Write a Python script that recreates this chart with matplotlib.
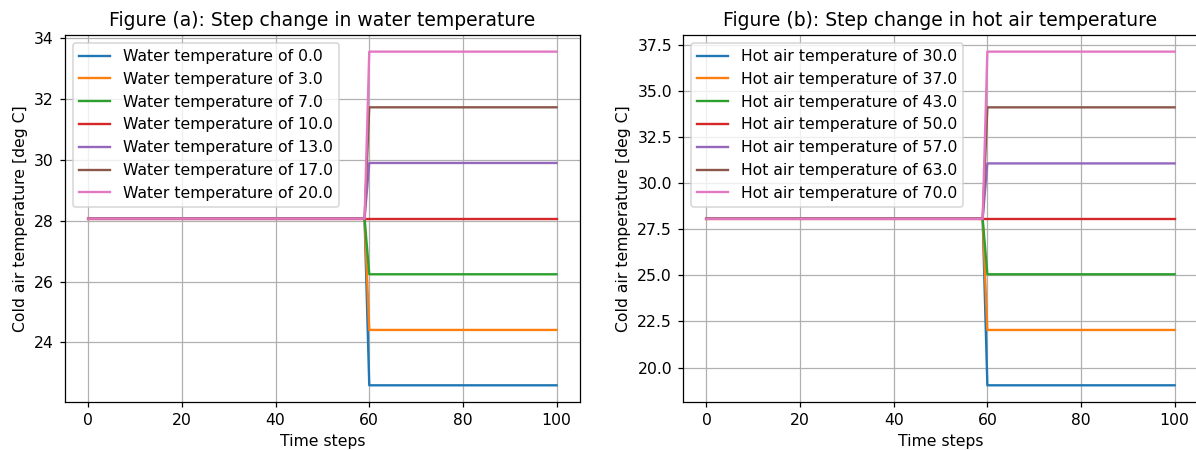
import matplotlib
matplotlib.use("Agg")
import matplotlib.pyplot as plt

# time points where the step curves bend
times = [0, 59, 60, 100]
initial_temp = 28.07

# Figure (a): step in water temperature
water_temps = [0.0, 3.0, 7.0, 10.0, 13.0, 17.0, 20.0]
water_final = [22.59, 24.41, 26.24, 28.07, 29.90, 31.73, 33.56]

# Figure (b): step in hot air temperature
hot_air_temps = [30.0, 37.0, 43.0, 50.0, 57.0, 63.0, 70.0]
hot_air_final = [19.04, 22.04, 25.06, 28.07, 31.07, 34.11, 37.13]

# reference looks rendered at a slightly larger scale than 100 dpi
dpi = 112.5
fig = plt.figure(figsize=(1196 / dpi, 450 / dpi), dpi=dpi)
ax1 = fig.add_axes([0.0543, 0.1067, 0.4306, 0.8156])
ax2 = fig.add_axes([0.5711, 0.1067, 0.4306, 0.8156])

for temp, final in zip(water_temps, water_final):
    ax1.plot(times, [initial_temp, initial_temp, final, final],
             label="Water temperature of %.1f" % temp)
ax1.set_title("Figure (a): Step change in water temperature")
ax1.set_xlabel("Time steps")
ax1.set_ylabel("Cold air temperature [deg C]")
ax1.grid(True)
ax1.legend(loc="upper left")

for temp, final in zip(hot_air_temps, hot_air_final):
    ax2.plot(times, [initial_temp, initial_temp, final, final],
             label="Hot air temperature of %.1f" % temp)
ax2.set_title("Figure (b): Step change in hot air temperature")
ax2.set_xlabel("Time steps")
ax2.set_ylabel("Cold air temperature [deg C]")
ax2.grid(True)
ax2.legend(loc="upper left")

fig.savefig("out.png", dpi=dpi)
